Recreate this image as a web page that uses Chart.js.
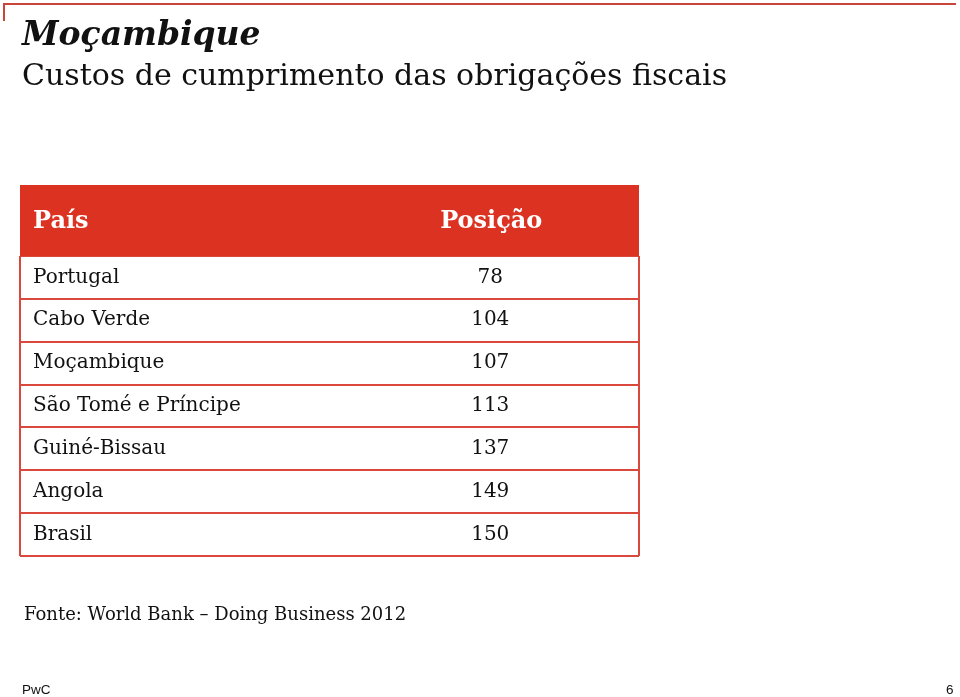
<!DOCTYPE html>
<html lang="pt">
<head>
<meta charset="utf-8">
<title>Moçambique - Custos de cumprimento das obrigações fiscais</title>
<script src="https://cdn.jsdelivr.net/npm/chart.js@4.4.1/dist/chart.umd.min.js"></script>
<style>
	html, body { margin: 0; padding: 0; background: #fff; overflow: hidden; }
	.page { position: relative; width: 960px; height: 697px; }
	.frame-top { position: absolute; left: 4px; top: 3px; width: 952px; height: 2px; background: #c9453a; }
	.frame-left { position: absolute; left: 3px; top: 3px; width: 2px; height: 18px; background: #c9453a; }
	.title { position: absolute; left: 22px; top: 14px; font: italic bold 33px 'DejaVu Serif', serif; color: #111; white-space: nowrap; }
	.subtitle { position: absolute; left: 22px; top: 57px; font: 30px 'DejaVu Serif', serif; color: #111; white-space: nowrap; }
	.source { position: absolute; left: 24px; top: 603px; font: 18px 'DejaVu Serif', serif; color: #111; white-space: nowrap; }
	.brand { position: absolute; left: 22px; top: 682px; font: 13.5px 'Liberation Sans', Arial, sans-serif; color: #111; }
	.pagenr { position: absolute; left: 946px; top: 682px; font: 13.5px 'Liberation Sans', Arial, sans-serif; color: #111; }
	.chart-box { position: absolute; left: 0; top: 0; width: 960px; height: 697px; }
</style>
</head>
<body>
<div class="page">
	<div class="chart-box"><canvas class="js-table"></canvas></div>
	<div class="frame-top"></div>
	<div class="frame-left"></div>
	<div class="title">Moçambique</div>
	<div class="subtitle">Custos de cumprimento das obrigações fiscais</div>
	<div class="source">Fonte: World Bank – Doing Business 2012</div>
	<div class="brand">PwC</div>
	<div class="pagenr">6</div>
</div>
<script>
// tabela: país -> posição (Doing Business 2012)
const columnLabels = ['País', 'Posição'];
const countries = ['Portugal', 'Cabo Verde', 'Moçambique', 'São Tomé e Príncipe', 'Guiné-Bissau', 'Angola', 'Brasil'];
const positions = [78, 104, 107, 113, 137, 149, 150];

const red = '#db3222';
const lineRed = '#d9473d';
const cellFont = "20px 'DejaVu Serif', serif";
const headFont = "bold 24px 'DejaVu Serif', serif";

// desenha cabeçalho e textos das células por cima da grelha do Chart.js
const tablePlugin = {
	id: 'tableText',
	beforeDatasetsDraw(chart) {
		const { ctx, chartArea, scales } = chart;
		const headTop = 185;
		ctx.save();
		ctx.fillStyle = red;
		ctx.fillRect(chartArea.left, headTop, chartArea.right - chartArea.left, chartArea.top - headTop);
		ctx.fillStyle = '#fff';
		ctx.font = headFont;
		ctx.textBaseline = 'middle';
		const headY = (headTop + chartArea.top) / 2 + 1;
		ctx.textAlign = 'left';
		ctx.fillText(columnLabels[0], chartArea.left + 13, headY);
		ctx.textAlign = 'center';
		ctx.fillText(columnLabels[1], scales.x.getPixelForValue(1) + 7, headY);
		ctx.restore();
	},
	afterDatasetsDraw(chart) {
		const { ctx, chartArea } = chart;
		const meta = chart.getDatasetMeta(0);
		ctx.save();
		ctx.fillStyle = '#111';
		ctx.font = cellFont;
		ctx.textBaseline = 'middle';
		meta.data.forEach(function (pt, i) {
			const raw = chart.data.datasets[0].data[i];
			ctx.textAlign = 'left';
			ctx.fillText(raw.y, chartArea.left + 13, pt.y);
			ctx.textAlign = 'center';
			ctx.fillText(String(raw.rank), pt.x + 6, pt.y);
		});
		ctx.restore();
	},
};

const createTable = function () {
	const data = {
		datasets: [
			{
				data: countries.map(function (c, i) {
					return { x: columnLabels[1], y: c, rank: positions[i] };
				}),
				showLine: false,
				pointRadius: 0,
				pointHoverRadius: 0,
			},
		],
	};

	const config = {
		type: 'line',
		data: data,
		options: {
			responsive: true,
			maintainAspectRatio: false,
			animation: false,
			events: [],
			layout: { padding: { left: 20, right: 321, top: 256, bottom: 141 } },
			plugins: {
				legend: { display: false },
				title: { display: false },
				tooltip: { enabled: false },
			},
			scales: {
				x: {
					type: 'category',
					labels: columnLabels,
					offset: true,
					ticks: { display: false },
					border: { display: false },
					grid: {
						offset: true,
						drawTicks: false,
						lineWidth: 2,
						color: function (c) {
							return c.index === 1 ? 'rgba(0,0,0,0)' : lineRed;
						},
					},
				},
				y: {
					type: 'category',
					labels: countries,
					offset: true,
					ticks: { display: false },
					border: { display: false },
					grid: { offset: true, drawTicks: false, lineWidth: 2, color: lineRed },
				},
			},
		},
		plugins: [tablePlugin],
	};

	const ctx = document.querySelector('.js-table');
	const myChart = new Chart(ctx, config);
};

const init = function () {
	createTable();
};
document.addEventListener('DOMContentLoaded', init);
</script>
</body>
</html>
